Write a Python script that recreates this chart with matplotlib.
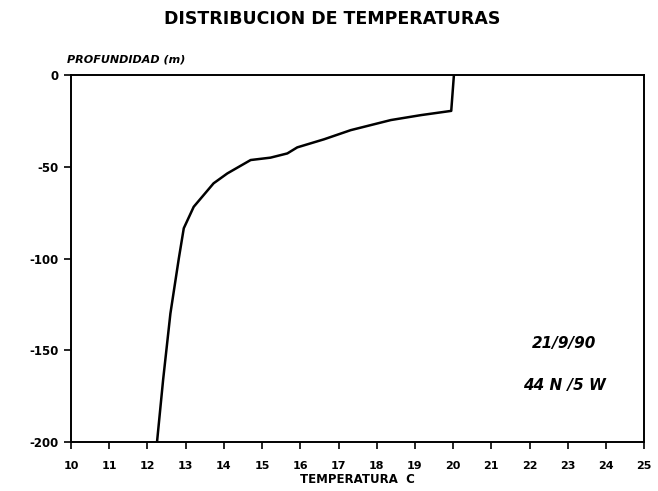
import numpy as np
import matplotlib.pyplot as plt

# perfil de temperatura (21/9/90, 44 N / 5 W)
temperatura = [20.02, 19.95, 19.16, 18.37, 17.32, 16.62, 15.92, 15.66, 15.22,
               14.70, 14.09, 13.73, 13.21, 12.95, 12.82, 12.60, 12.41, 12.25]
profundidad = [0, -19.5, -21.8, -24.5, -30, -35, -39.4, -42.7, -45,
               -46.3, -53.6, -59, -71.8, -83.5, -100, -130, -166, -200]

xticks = list(range(10, 26))
yticks = [0, -50, -100, -150, -200]

fig = plt.figure(figsize=(6.58, 4.91), dpi=100)
ax = fig.add_axes([0.108, 0.1, 0.871, 0.747])

ax.plot(temperatura, profundidad, color='black', linewidth=1.8)

ax.set_xlim(10, 25)
ax.set_ylim(-200, 0)
ax.set_xticks(xticks)
ax.set_yticks(yticks)
ax.set_xticklabels([str(t) for t in xticks], fontsize=8, fontweight='bold')
ax.set_yticklabels([str(t) for t in yticks], fontsize=8.5, fontweight='bold')
ax.tick_params(axis='x', direction='out', length=5, width=1.2, pad=9)
ax.tick_params(axis='y', direction='out', length=5, width=1.2, pad=4)
for s in ax.spines.values():
    s.set_linewidth(1.4)

fig.text(0.505, 0.962, 'DISTRIBUCION DE TEMPERATURAS', ha='center', va='center',
         fontsize=12.5, fontweight='bold')
fig.text(0.102, 0.878, 'PROFUNDIDAD (m)', ha='left', va='center',
         fontsize=8, fontweight='bold', style='italic')
ax.set_xlabel('TEMPERATURA  C', fontsize=8.5, fontweight='bold', labelpad=1)

ax.text(22.89, -146.6, '21/9/90', ha='center', va='center', fontsize=11,
        style='italic', fontweight='bold')
ax.text(22.92, -169, '44 N /5 W', ha='center', va='center', fontsize=11,
        style='italic', fontweight='bold')

fig.savefig('out.png', dpi=100)
